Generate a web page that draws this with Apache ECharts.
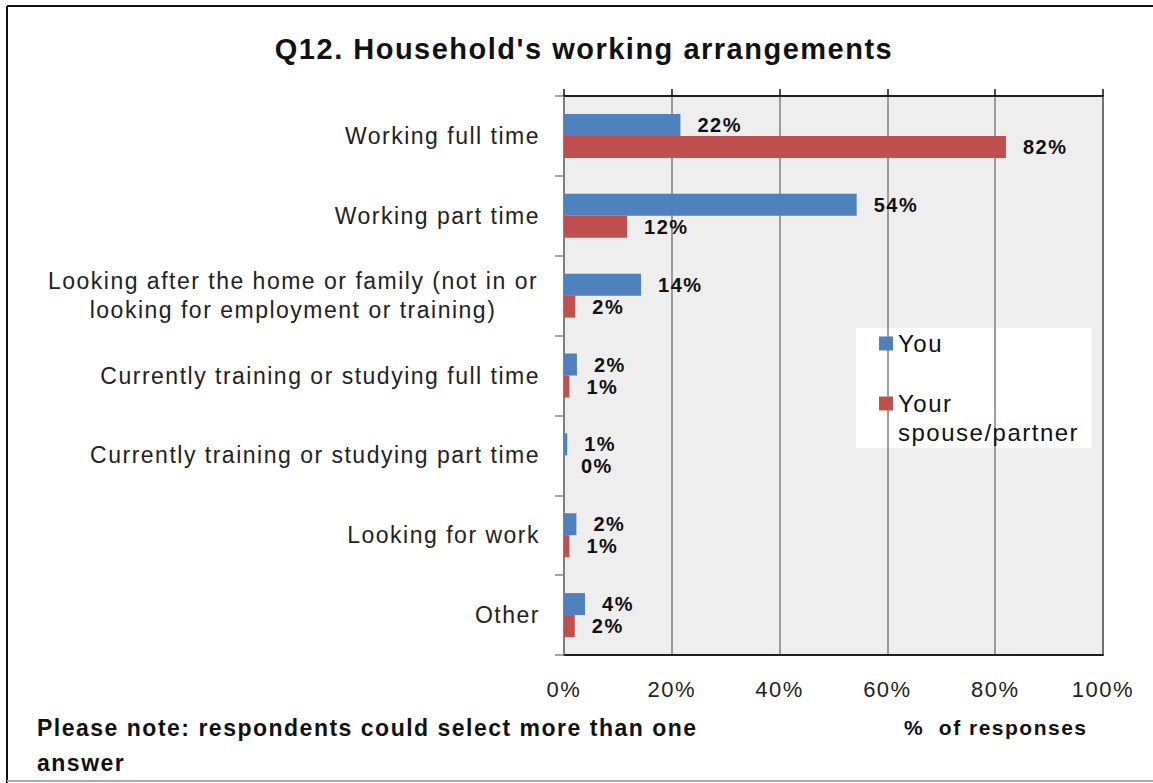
<!DOCTYPE html>
<html>
<head>
<meta charset="utf-8">
<script src="https://cdn.jsdelivr.net/npm/echarts@6/dist/echarts.min.js"></script>
<style>
html,body{margin:0;padding:0;background:#fff;}
#chart{width:1153px;height:783px;}
#chart text{letter-spacing:1.5px;}
</style>
</head>
<body>
<div id="chart"></div>
<script>
const categories = [
  'Working full time',
  'Working part time',
  'Looking after the home or family (not in or\nlooking for employment or training)',
  'Currently training or studying full time',
  'Currently training or studying part time',
  'Looking for work',
  'Other'
];
const seriesNames = ['You', 'Your\nspouse/partner'];
const youValues = [21.6, 54.3, 14.3, 2.4, 0.6, 2.3, 3.9];
const partnerValues = [82.0, 11.7, 2.1, 1.0, 0.0, 1.0, 2.0];
const xTicks = [0, 20, 40, 60, 80, 100];

const FONT = "'Liberation Sans', Arial, sans-serif";
const chart = echarts.init(document.getElementById('chart'), null, {renderer: 'svg'});

const labelCfg = {
  show: true,
  position: 'right',
  distance: 17,
  color: '#111',
  fontFamily: FONT,
  fontWeight: 'bold',
  fontSize: 20,
  formatter: p => Math.round(p.value) + '%'
};

chart.setOption({
  animation: false,
  backgroundColor: '#fff',
  title: {
    text: "Q12. Household's working arrangements",
    left: 579,
    top: 29,
    textAlign: 'center',
    textStyle: {fontFamily: FONT, fontWeight: 'bold', fontSize: 29, color: '#111'}
  },
  grid: {
    left: 564, top: 96, right: 50, bottom: 128,
    show: true, backgroundColor: '#eeeeee', borderColor: '#111', borderWidth: 1.5
  },
  legend: {
    orient: 'vertical',
    left: 874, top: 324,
    itemWidth: 14, itemHeight: 14, itemGap: 2,
    icon: 'rect',
    formatter: name => name.indexOf('\n') >= 0 ? '\n' + name : name,
    textStyle: {fontFamily: FONT, fontSize: 24, color: '#111', lineHeight: 29},
    data: seriesNames
  },
  xAxis: [
    {
      type: 'value', position: 'bottom', min: 0, max: 100, interval: 20,
      axisLine: {show: true, lineStyle: {color: '#111', width: 1.5}},
      axisTick: {show: false},
      splitLine: {show: true, lineStyle: {color: '#7f7f7f', width: 1.5}},
      axisLabel: {formatter: '{value}%', margin: 23, fontFamily: FONT, fontSize: 22, color: '#222'}
    },
    {
      type: 'value', position: 'top', min: 0, max: 100, interval: 20,
      axisLine: {show: true, lineStyle: {color: '#111', width: 1.5}},
      axisTick: {show: true, length: 7, lineStyle: {color: '#111', width: 1.5}},
      splitLine: {show: false},
      axisLabel: {show: false}
    }
  ],
  yAxis: {
    type: 'category', inverse: true, data: categories,
    axisLine: {show: true, lineStyle: {color: '#868686', width: 1.5}},
    axisTick: {show: true, length: 9, interval: 0, lineStyle: {color: '#868686', width: 1.5}},
    axisLabel: {
      margin: 24, fontFamily: FONT, fontSize: 23, color: '#222', lineHeight: 29,
      formatter: v => v.indexOf('\n') >= 0
        ? v.split('\n').map(s => '{c|' + s + '}').join('\n')
        : v,
      rich: {c: {width: 494, align: 'center', fontFamily: FONT, fontSize: 23, color: '#222', lineHeight: 29}}
    }
  },
  series: [
    {
      name: seriesNames[0], type: 'bar', data: youValues, barWidth: 22, barGap: '0%',
      itemStyle: {color: '#4f81bd'}, label: labelCfg
    },
    {
      name: seriesNames[1], type: 'bar', data: partnerValues, barWidth: 22, barGap: '0%',
      itemStyle: {color: '#c0504d'}, label: labelCfg
    }
  ],
  graphic: [
    {type: 'rect', z: 0, shape: {x: 856, y: 328, width: 236, height: 120}, style: {fill: '#fff'}},
    {type: 'line', shape: {x1: 7, y1: 6, x2: 1153, y2: 6}, style: {stroke: '#111', lineWidth: 2}},
    {type: 'line', shape: {x1: 7, y1: 6, x2: 7, y2: 783}, style: {stroke: '#111', lineWidth: 2}},
    {type: 'line', shape: {x1: 7, y1: 781, x2: 1153, y2: 781}, style: {stroke: '#aaa', lineWidth: 2}},
    {type: 'text', left: 904, top: 717, style: {text: '%  of responses', fontFamily: FONT, fontWeight: 'bold', fontSize: 21, fill: '#111'}},
    {type: 'text', left: 37, top: 710, style: {text: 'Please note: respondents could select more than one\nanswer', fontFamily: FONT, fontWeight: 'bold', fontSize: 23, lineHeight: 35, fill: '#111'}}
  ]
});
</script>
</body>
</html>
